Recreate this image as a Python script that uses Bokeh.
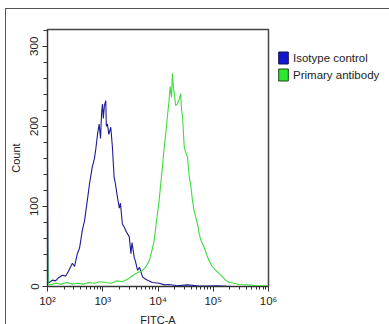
from bokeh.plotting import figure
from bokeh.models import (FixedTicker, CustomJSTickFormatter, Legend, LegendItem,
                          Range1d, SingleIntervalTicker)
from bokeh.embed import file_html
from bokeh.resources import INLINE

# ---- data (log10 of FITC-A intensity, event count) ----
iso_log = [2.0, 2.01, 2.03, 2.09, 2.145, 2.2, 2.27, 2.33, 2.38, 2.45, 2.49, 2.54, 2.58,
           2.63, 2.67, 2.72, 2.76, 2.81, 2.85, 2.875, 2.905, 2.935, 2.96, 2.98, 2.995,
           3.01, 3.03, 3.055, 3.065, 3.085, 3.11, 3.145, 3.175, 3.205, 3.23, 3.265, 3.30,
           3.32, 3.355, 3.39, 3.43, 3.48, 3.51, 3.53, 3.57, 3.59, 3.63, 3.665, 3.72,
           3.775, 3.84, 3.90, 4.02, 4.12, 4.2, 4.35, 4.53, 4.71, 4.9, 5.08, 5.35, 6.0]
iso_count = [150, 4, 5, 8, 7, 11, 14, 13, 19, 29, 25, 41, 48,
             70, 82, 107, 128, 149, 160, 172, 190, 203, 185, 218, 228,
             210, 226, 232, 200, 203, 190, 199, 174, 137, 128, 112, 98,
             104, 78, 74, 68, 62, 41, 55, 36, 32, 20, 24, 12,
             9, 7, 5, 4, 2, 2.5, 1, 2, 1, 0.5, 1, 0, 0]

pri_log = [2.0, 2.01, 2.05, 2.15, 2.25, 2.35, 2.45, 2.55, 2.65, 2.75, 2.85, 2.95, 3.05,
           3.15, 3.25, 3.35, 3.45, 3.59, 3.72, 3.775, 3.84, 3.88, 3.93, 3.97, 4.02,
           4.045, 4.08, 4.10, 4.14, 4.17, 4.20, 4.22, 4.245, 4.26, 4.28, 4.295, 4.32,
           4.35, 4.38, 4.41, 4.425, 4.445, 4.475, 4.50, 4.535, 4.565, 4.59, 4.625, 4.65,
           4.685, 4.715, 4.745, 4.775, 4.835, 4.88, 4.925, 4.985, 5.045, 5.11, 5.17,
           5.22, 5.29, 5.37, 5.47, 5.62, 5.8, 5.98]
pri_count = [64, 3, 2, 4, 3, 5, 3, 4, 3, 5, 4, 6, 5,
             4, 7, 6, 9, 16, 20, 24, 32, 42, 57, 80, 107,
             125, 149, 165, 191, 212, 232, 250, 236, 266, 248, 241, 226,
             228, 233, 241, 222, 211, 174, 168, 161, 137, 128, 107, 96,
             86, 78, 66, 58, 49, 40, 32, 25, 20, 16, 12,
             8, 5, 4, 2.5, 2, 1, 1]

decades = [2, 3, 4, 5, 6]
series_names = ["Isotype control", "Primary antibody"]

FONT = "Liberation Sans"
NAN = float("nan")

p = figure(frame_width=221, frame_height=257, x_axis_type="log",
           x_range=Range1d(10 ** decades[0], 10 ** decades[-1]),
           y_range=Range1d(0, 321),
           output_backend="svg", toolbar_location=None,
           min_border_left=39, min_border_right=0, min_border_top=20,
           min_border_bottom=37)
p.stylesheets = [":host { margin-left: 5px; margin-top: 8px; "
                 "border-top: 1px solid #555; border-left: 1px solid #555; }"]

p.grid.visible = False
p.outline_line_color = "#444"
p.outline_line_width = 1.5
p.background_fill_color = "white"
p.border_fill_alpha = 0

p.line([10 ** v for v in iso_log], iso_count, line_color="#1c1c96", line_width=1.1)
p.line([10 ** v for v in pri_log], pri_count, line_color="#3ddc3d", line_width=1.1)

# x axis
minor = [m * 10 ** d for d in decades[:-1] for m in range(2, 10)]
p.xaxis.ticker = FixedTicker(ticks=[10 ** d for d in decades], minor_ticks=minor)
p.xaxis.formatter = CustomJSTickFormatter(code="""
const s = {2:'\u00b2',3:'\u00b3',4:'\u2074',5:'\u2075',6:'\u2076'};
const e = Math.round(Math.log10(tick));
return '10' + s[e];
""")
p.xaxis.axis_label = "FITC-A"
p.xaxis.major_tick_out = 5
p.xaxis.major_tick_in = 0
p.xaxis.minor_tick_out = 3
p.xaxis.minor_tick_in = 0
p.xaxis.major_label_standoff = 3
p.xaxis.axis_label_standoff = 4

# y axis
p.yaxis.ticker = SingleIntervalTicker(interval=100, num_minor_ticks=5)
p.yaxis.axis_label = "Count"
p.yaxis.major_label_orientation = "vertical"
p.yaxis.major_tick_out = 5
p.yaxis.major_tick_in = 0
p.yaxis.minor_tick_out = 4
p.yaxis.minor_tick_in = 0
p.yaxis.major_label_standoff = 4
p.yaxis.axis_label_standoff = 6

for ax in (p.xaxis[0], p.yaxis[0]):
    ax.axis_line_color = "#333"
    ax.major_tick_line_color = "#333"
    ax.minor_tick_line_color = "#333"
    ax.major_label_text_font = FONT
    ax.major_label_text_font_size = "11.5px"
    ax.major_label_text_color = "#222"
    ax.axis_label_text_font = FONT
    ax.axis_label_text_font_size = "11px"
    ax.axis_label_text_font_style = "normal"
    ax.axis_label_text_color = "#222"

# legend with filled squares (proxy glyphs carry no drawable data)
r_iso = p.quad(left=[NAN], right=[NAN], top=[NAN], bottom=[NAN],
               fill_color="#1414d0", line_color="#101050")
r_pri = p.quad(left=[NAN], right=[NAN], top=[NAN], bottom=[NAN],
               fill_color="#2ee82e", line_color="#1a4a1a")
legend = Legend(items=[LegendItem(label=series_names[0], renderers=[r_iso]),
                       LegendItem(label=series_names[1], renderers=[r_pri])],
                location="top_left", glyph_width=12, glyph_height=15, label_height=15,
                spacing=2, padding=0, margin=9, label_standoff=4,
                title=" ", title_text_font_size="4px", title_standoff=7,
                label_text_font=FONT, label_text_font_size="11.5px",
                label_text_color="#222", border_line_color=None,
                background_fill_alpha=0)
p.add_layout(legend, "right")

open("out.html", "w").write(file_html(p, INLINE))
